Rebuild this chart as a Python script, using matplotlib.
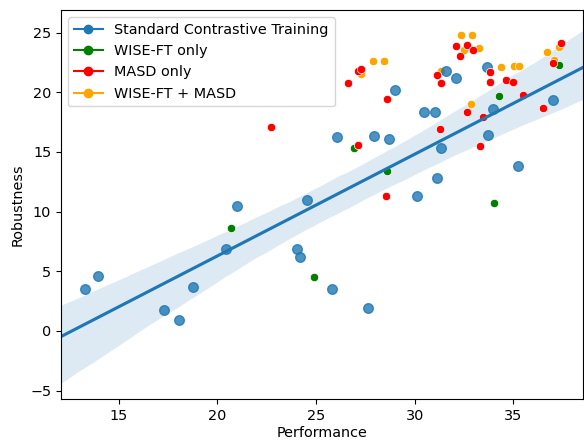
import matplotlib
matplotlib.use("Agg")
import matplotlib.pyplot as plt
from matplotlib.lines import Line2D
import numpy as np
import seaborn as sns

# Standard Contrastive Training (blue)
std_perf = [13.27, 13.95, 17.28, 18.07, 18.75, 20.44, 20.98, 24.04, 24.17, 24.53,
            25.82, 26.07, 27.62, 27.96, 28.71, 28.98, 30.09, 30.46, 31.04, 31.12,
            31.34, 31.58, 32.10, 33.68, 33.73, 33.98, 35.23, 37.00]
std_rob = [3.52, 4.61, 1.74, 0.92, 3.71, 6.85, 10.5, 6.9, 6.2, 11.0,
           3.52, 16.24, 1.93, 16.32, 16.07, 20.2, 11.34, 18.33, 18.33, 12.82,
           15.34, 21.82, 21.23, 22.13, 16.43, 18.63, 13.81, 19.34]

# WISE-FT only (green)
wise_perf = [20.67, 24.88, 26.90, 28.57, 34.04, 34.26, 37.33]
wise_rob = [8.63, 4.5, 15.3, 13.4, 10.75, 19.72, 22.32]

# MASD only (red)
masd_perf = [22.69, 26.61, 27.11, 27.29, 28.57, 27.14, 28.55, 31.26, 31.14, 31.34,
             32.07, 32.27, 32.66, 32.93, 32.64, 33.45, 33.30, 33.84, 33.79, 34.62,
             34.96, 35.48, 36.50, 37.00, 37.39]
masd_rob = [17.1, 20.81, 21.82, 21.94, 19.42, 15.62, 11.34, 16.93, 21.43, 20.81,
            23.91, 23.08, 24.0, 23.55, 18.33, 17.91, 15.53, 21.71, 20.9, 21.01,
            20.9, 19.76, 18.72, 22.44, 24.12]

# WISE-FT + MASD (orange)
both_perf = [32.37, 32.88, 32.51, 33.27, 27.90, 28.42, 27.30, 31.31, 32.87, 34.37,
             35.05, 35.31, 36.70, 37.33, 37.05, 34.91]
both_rob = [24.84, 24.84, 23.53, 23.72, 22.61, 22.61, 21.54, 21.82, 19.03, 22.13,
            22.21, 22.21, 23.41, 23.81, 22.72, 20.85]

labels = ["Standard Contrastive Training", "WISE-FT only", "MASD only", "WISE-FT + MASD"]
colors = ["#1f77b4", "green", "red", "orange"]

plt.rcParams["font.size"] = 10.4

fig = plt.figure(figsize=(5.84, 4.42), dpi=100)
ax = fig.add_axes([0.1045, 0.0966, 0.8938, 0.8808])

ax.scatter(both_perf, both_rob, s=36, color=colors[3], edgecolors="white", linewidths=0.5)
ax.scatter(std_perf, std_rob, s=48, color=colors[0], alpha=0.8, linewidths=1.0)
ax.scatter(wise_perf, wise_rob, s=36, color=colors[1], edgecolors="white", linewidths=0.5)
ax.scatter(masd_perf, masd_rob, s=36, color=colors[2], edgecolors="white", linewidths=0.5)

ax.set_xlim(12.07, 38.53)
sns.regplot(x=np.array(std_perf), y=np.array(std_rob), ax=ax, scatter=False,
            truncate=False, color=colors[0], seed=0)
for coll in ax.collections:
    if coll.__class__.__name__ in ("PolyCollection", "FillBetweenPolyCollection"):
        coll.set_zorder(0.5)
ax.set_xlim(12.07, 38.53)
ax.set_ylim(-5.73, 26.9)

handles = [Line2D([0], [0], color=c, marker="o", markersize=6) for c in colors]
ax.legend(handles, labels, loc="upper left")

ax.set_xlabel("Performance", labelpad=2.5)
ax.set_ylabel("Robustness")

fig.savefig("out.png", dpi=100)
